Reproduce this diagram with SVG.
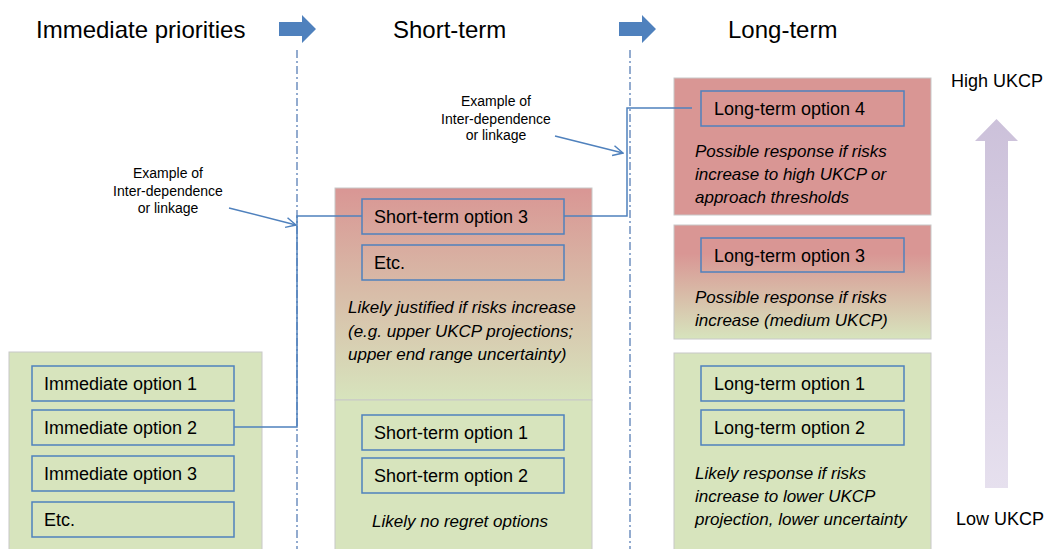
<svg xmlns="http://www.w3.org/2000/svg" width="1047" height="549" viewBox="0 0 1047 549">
<defs>
<linearGradient id="gST" x1="0" y1="0" x2="0" y2="1">
<stop offset="0" stop-color="#d99694"/>
<stop offset="1" stop-color="#d7e4bd"/>
</linearGradient>
<linearGradient id="gLT" x1="0" y1="0" x2="0" y2="1">
<stop offset="0" stop-color="#d99694"/>
<stop offset="0.25" stop-color="#d99694"/>
<stop offset="1" stop-color="#d7e4bd"/>
</linearGradient>
<linearGradient id="gUp" x1="0" y1="0" x2="0" y2="1">
<stop offset="0" stop-color="#ccc1da"/>
<stop offset="1" stop-color="#e6e0ee"/>
</linearGradient>
<marker id="open" viewBox="0 0 12 12" refX="11" refY="6" markerWidth="12" markerHeight="12" markerUnits="userSpaceOnUse" orient="auto">
<path d="M1,1 L11,6 L1,11" fill="none" stroke="#4f81bd" stroke-width="1.5"/>
</marker>
</defs>
<style>
text{font-family:"Liberation Sans",Arial,sans-serif;fill:#000}
.hd{font-size:24px}
.lb{font-size:18px}
.it{font-size:17px;font-style:italic}
.an{font-size:14px;text-anchor:middle}
.panel{stroke:#c8c8c8;stroke-width:1}
.box{fill:none;stroke:#4f81bd;stroke-width:1.5}
.sep{stroke:#6f90c0;stroke-width:1.5;stroke-dasharray:8,3,2,3;fill:none}
.conn{stroke:#4f81bd;stroke-width:1.5;fill:none}
.blk{fill:#4f81bd}
</style>
<rect width="1047" height="549" fill="#fff"/>

<g id="headers">
<text class="hd" x="36" y="38">Immediate priorities</text>
<text class="hd" x="393" y="38">Short-term</text>
<text class="hd" x="728" y="38">Long-term</text>
<path class="blk" d="M279,22 H302 V15 L316,29 L302,43 V36 H279 Z"/>
<path class="blk" d="M619,22 H642 V15 L656,29 L642,43 V36 H619 Z"/>
</g>

<g id="separators">
<line class="sep" x1="297" y1="50" x2="297" y2="549"/>
<line class="sep" x1="630" y1="50" x2="630" y2="549"/>
</g>

<g id="immediate">
<rect class="panel" x="9" y="352" width="253" height="200" fill="#d7e4bd"/>
<rect class="box" x="32" y="366" width="202" height="35"/>
<text class="lb" x="44" y="390">Immediate option 1</text>
<rect class="box" x="32" y="410" width="202" height="35"/>
<text class="lb" x="44" y="434">Immediate option 2</text>
<rect class="box" x="32" y="456" width="202" height="35"/>
<text class="lb" x="44" y="480">Immediate option 3</text>
<rect class="box" x="32" y="502" width="202" height="35"/>
<text class="lb" x="44" y="526">Etc.</text>
</g>

<g id="shortterm-upper">
<rect class="panel" x="335" y="188" width="257" height="212" fill="url(#gST)"/>
<rect class="box" x="362" y="199" width="202" height="35"/>
<text class="lb" x="374" y="223">Short-term option 3</text>
<rect class="box" x="362" y="245" width="202" height="35"/>
<text class="lb" x="374" y="269">Etc.</text>
<text class="it" x="348" y="313">Likely justified if risks increase</text>
<text class="it" x="348" y="337">(e.g. upper UKCP projections;</text>
<text class="it" x="348" y="360">upper end range uncertainty)</text>
</g>

<g id="shortterm-lower">
<rect class="panel" x="335" y="400" width="257" height="152" fill="#d7e4bd"/>
<rect class="box" x="362" y="415" width="202" height="35"/>
<text class="lb" x="374" y="439">Short-term option 1</text>
<rect class="box" x="362" y="458" width="202" height="35"/>
<text class="lb" x="374" y="482">Short-term option 2</text>
<text class="it" x="460" y="527" text-anchor="middle">Likely no regret options</text>
</g>

<g id="longterm-high">
<rect class="panel" x="674" y="78" width="257" height="137" fill="#d99694"/>
<rect class="box" x="701" y="91" width="203" height="35"/>
<text class="lb" x="714" y="115">Long-term option 4</text>
<text class="it" x="695" y="157">Possible response if risks</text>
<text class="it" x="695" y="180">increase to high UKCP or</text>
<text class="it" x="695" y="203">approach thresholds</text>
</g>

<g id="longterm-medium">
<rect class="panel" x="674" y="225" width="257" height="114" fill="url(#gLT)"/>
<rect class="box" x="701" y="238" width="203" height="34"/>
<text class="lb" x="714" y="262">Long-term option 3</text>
<text class="it" x="695" y="303">Possible response if risks</text>
<text class="it" x="695" y="326">increase (medium UKCP)</text>
</g>

<g id="longterm-low">
<rect class="panel" x="674" y="353" width="257" height="199" fill="#d7e4bd"/>
<rect class="box" x="701" y="366" width="203" height="35"/>
<text class="lb" x="714" y="390">Long-term option 1</text>
<rect class="box" x="701" y="410" width="203" height="35"/>
<text class="lb" x="714" y="434">Long-term option 2</text>
<text class="it" x="695" y="479">Likely response if risks</text>
<text class="it" x="695" y="502">increase to lower UKCP</text>
<text class="it" x="695" y="525">projection, lower uncertainty</text>
</g>

<g id="ukcp-scale">
<text class="lb" x="951" y="87">High UKCP</text>
<path d="M985,488 V141 H975 L996.5,119 L1018,141 H1008 V488 Z" fill="url(#gUp)"/>
<text class="lb" x="956" y="525">Low UKCP</text>
</g>

<g id="annotations">
<text class="an" x="168" y="178">Example of</text>
<text class="an" x="168" y="196">Inter-dependence</text>
<text class="an" x="168" y="213">or linkage</text>
<text class="an" x="496" y="106">Example of</text>
<text class="an" x="496" y="124">Inter-dependence</text>
<text class="an" x="496" y="140">or linkage</text>
</g>

<g id="connectors">
<path class="conn" d="M234,427 H297 V216 H362"/>
<path class="conn" d="M564,216 H627 V108 H692"/>
<line class="conn" x1="229" y1="208" x2="296" y2="225" marker-end="url(#open)"/>
<line class="conn" x1="555" y1="136" x2="623" y2="153" marker-end="url(#open)"/>
</g>
</svg>
